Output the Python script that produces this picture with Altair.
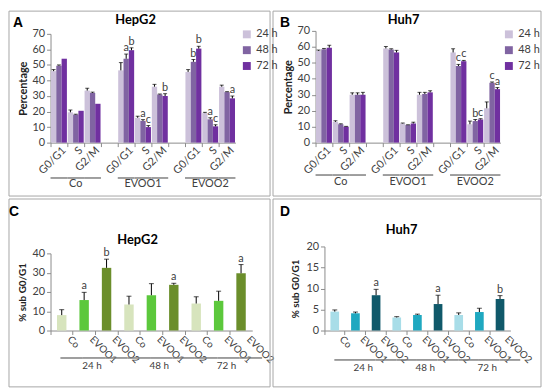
import altair as alt
import pandas as pd

# ---------------- data ----------------
groups = ["Co", "EVOO1", "EVOO2"]
phases = ["G0/G1", "S", "G2/M"]
times = ["24 h", "48 h", "72 h"]

# Panel A: HepG2 cell cycle (%), order: group -> phase -> time
hepg2_cycle = [46, 49.5, 54, 19.5, 18, 20.5, 33.5, 32, 25,
               46.5, 54, 59.5, 16, 14, 10, 36, 31, 30,
               45.5, 52, 60.5, 19, 15, 10.5, 36, 32.5, 28.5]
hepg2_cycle_err = [1, 0.5, 0, 1.5, 0.3, 0, 1.5, 0.5, 0,
                   5, 3, 1.5, 1, 0.8, 1, 1.5, 0.3, 1.5,
                   1.5, 1.5, 1.5, 0.5, 1, 1, 1, 0.3, 1.5]
hepg2_cycle_sig = ["", "", "", "", "", "", "", "", "",
                   "", "a", "b", "", "a", "c", "", "", "b",
                   "", "b", "b", "", "a", "c", "", "", "a"]

# Panel B: Huh7 cell cycle (%)
huh7_cycle = [57.5, 58.5, 59.5, 13, 11.5, 10, 30, 30, 30,
              59, 58.3, 56.5, 12, 11, 12, 30, 30.5, 31.5,
              56.5, 48, 51, 11.5, 13.5, 14.5, 21.5, 37.5, 33.5]
huh7_cycle_err = [0.5, 0.5, 1.5, 0.7, 0.3, 0.2, 1.2, 1.2, 1.5,
                  1.2, 0.5, 1.3, 0.3, 0.2, 0.8, 1.5, 1, 1,
                  2.3, 1, 0.5, 2, 1, 0.5, 4, 0.5, 1]
huh7_cycle_sig = ["", "", "", "", "", "", "", "", "",
                  "", "", "", "", "", "", "", "", "",
                  "", "c", "c", "", "b", "c", "", "c", "a"]

# Panels C, D: % sub G0/G1, order: time -> treatment
hepg2_sub = [8, 15.8, 32.5, 13.5, 18.3, 23.7, 14, 15.4, 29.7]
hepg2_sub_err = [2.8, 4, 4.5, 4.3, 6, 0.8, 3.5, 5, 4.5]
hepg2_sub_sig = ["", "a", "b", "", "", "a", "", "", "a"]

huh7_sub = [4.5, 4.1, 8.4, 3.1, 3.7, 6.3, 3.7, 4.4, 7.5]
huh7_sub_err = [0.4, 0.3, 1.4, 0.2, 0.2, 2.1, 0.5, 0.9, 0.8]
huh7_sub_sig = ["", "", "a", "", "", "a", "", "", "b"]

purple = ["#CCC1DA", "#8064A2", "#7030A0"]
green = ["#D7E4BD", "#5CC83C", "#6B8E2B"]
teal = ["#A8DDE8", "#1FA8C0", "#10596A"]

FONT = "Lato"
AXIS_COL = "#8C8C8C"
TXT = "#404040"

cat_ab = ["Co|G0/G1", "Co|S", "Co|G2/M", "gap1|",
          "EVOO1|G0/G1", "EVOO1|S", "EVOO1|G2/M", "gap2|",
          "EVOO2|G0/G1", "EVOO2|S", "EVOO2|G2/M"]
cat_cd = [f"{t}|{g}" for t in times for g in groups]


def one_row():
    return alt.Data(values=[{"k": 0}])


def deco(items):
    """items: list of (frame, letter, letter_xy, title, title_xy), pixel offsets
    relative to the plot area of the panel that carries them."""
    out = []
    for frame, letter, letter_xy, title, title_xy in items:
        L, R, T, B = frame
        out.append(alt.Chart(one_row()).mark_rect(fill="white", fillOpacity=0,
                                                  stroke="#A6A6A6", strokeWidth=1).encode(
            x=alt.value(L), x2=alt.value(R), y=alt.value(T), y2=alt.value(B)))
        out.append(alt.Chart(one_row()).mark_text(font="Liberation Sans", fontWeight="bold",
                                                  fontSize=14, align="left", baseline="top",
                                                  color="black").encode(
            x=alt.value(letter_xy[0]), y=alt.value(letter_xy[1]), text=alt.value(letter)))
        out.append(alt.Chart(one_row()).mark_text(font=FONT, fontWeight="bold", fontSize=13,
                                                  align="center", baseline="middle",
                                                  color="black").encode(
            x=alt.value(title_xy[0]), y=alt.value(title_xy[1]), text=alt.value(title)))
    return out


def cycle_panel(vals, errs, sigs, ymax, ytitle, W, H, top, leg_xy, line_dy, lab_dy, extra):
    rows = []
    i = 0
    for g in groups:
        for p in phases:
            for t in times:
                rows.append(dict(cat=f"{g}|{p}", group=g, phase=p, time=t,
                                 v=vals[i], top=vals[i] + errs[i], err=errs[i], sig=sigs[i]))
                i += 1
    df = pd.DataFrame(rows)
    step = W / len(cat_ab)
    xs = alt.X("cat:N", scale=alt.Scale(domain=cat_ab, paddingInner=0, paddingOuter=0),
               axis=alt.Axis(title=None, labelExpr="split(datum.value, '|')[1]",
                             labelAngle=-45, labelAlign="right", labelBaseline="middle",
                             bandPosition=0, labelOffset=step / 2 - 3, tickSize=4,
                             labelPadding=2, domainColor=AXIS_COL, tickColor=AXIS_COL,
                             labelColor=TXT, labelFont=FONT, labelFontSize=11))
    xo = alt.XOffset("time:N", scale=alt.Scale(domain=times, paddingInner=0, paddingOuter=0.08))
    yax = alt.Axis(values=list(range(0, ymax + 1, 10)), grid=False, domainColor=AXIS_COL,
                   tickColor=AXIS_COL, tickSize=4, labelColor=TXT, labelFont=FONT,
                   labelFontSize=11, titleFont=FONT, titleFontSize=11, titleColor="#222",
                   titleFontWeight="bold", titlePadding=4)
    ysc = alt.Scale(domain=[0, ymax], nice=False, range=[H, top])
    base = alt.Chart(df)
    bars = base.mark_bar().encode(
        x=xs, xOffset=xo,
        y=alt.Y("v:Q", scale=ysc, axis=yax, title=ytitle),
        color=alt.Color("time:N", scale=alt.Scale(domain=times, range=purple),
                        legend=alt.Legend(title=None, orient="none", legendX=leg_xy[0],
                                          legendY=leg_xy[1], symbolType="square",
                                          symbolSize=64, symbolStrokeWidth=0,
                                          labelFont=FONT, labelFontSize=11,
                                          labelColor=TXT, rowPadding=4, labelOffset=4)))
    eb = base.transform_filter("datum.err > 0")
    rule = eb.mark_rule(color="black", strokeWidth=1).encode(
        x=xs, xOffset=xo, y=alt.Y("v:Q", scale=ysc, axis=yax, title=ytitle), y2="top:Q")
    cap = eb.mark_tick(color="black", thickness=1, size=4).encode(
        x=xs, xOffset=xo, y=alt.Y("top:Q", scale=ysc, axis=yax, title=ytitle))
    sig = base.mark_text(font=FONT, fontSize=11, color=TXT, fill=TXT, baseline="bottom",
                         dy=-1).encode(
        x=xs, xOffset=xo, y=alt.Y("top:Q", scale=ysc, axis=yax, title=ytitle), text="sig:N")
    gl_df = pd.DataFrame([{"cat": f"{g}|{p}"} for g in groups for p in phases])
    gline = alt.Chart(gl_df).mark_rect(color="#7F7F7F").encode(
        x=xs, y=alt.value(H + line_dy), y2=alt.value(H + line_dy + 1.5))
    glab_df = pd.DataFrame([{"cat": f"{g}|S", "group": g} for g in groups])
    glab = alt.Chart(glab_df).mark_text(font=FONT, fontSize=11, color=TXT,
                                        baseline="middle").encode(
        x=xs, y=alt.value(H + lab_dy), text="group:N")
    layers = deco(extra) + [bars, rule, cap, sig, gline, glab]
    return alt.layer(*layers).properties(width=W, height=H)


def sub_panel(vals, errs, sigs, ymax, ystep, colors, W, H, rng, line_dy, lab_dy, extra):
    rows = []
    i = 0
    for t in times:
        for g in groups:
            rows.append(dict(cat=f"{t}|{g}", group=g, time=t, v=vals[i],
                             top=vals[i] + errs[i], err=errs[i], sig=sigs[i]))
            i += 1
    df = pd.DataFrame(rows)
    step = W / len(cat_cd)
    xs = alt.X("cat:N", scale=alt.Scale(domain=cat_cd, paddingInner=0, paddingOuter=0),
               axis=alt.Axis(title=None, labelExpr="split(datum.value, '|')[1]",
                             labelAngle=45, labelAlign="left", labelBaseline="middle",
                             bandPosition=0, labelOffset=step / 2 - 4, tickSize=4,
                             labelPadding=3, domainColor=AXIS_COL, tickColor=AXIS_COL,
                             labelColor=TXT, labelFont=FONT, labelFontSize=10))
    yax = alt.Axis(values=list(range(0, ymax + 1, ystep)), grid=False, domainColor=AXIS_COL,
                   tickColor=AXIS_COL, tickSize=4, labelColor=TXT, labelFont=FONT,
                   labelFontSize=11, titleFont=FONT, titleFontSize=10, titleColor="#222",
                   titleFontWeight="bold", titlePadding=5)
    ysc = alt.Scale(domain=[0, ymax], nice=False, range=rng)
    ytitle = "% sub G0/G1"
    base = alt.Chart(df)
    bars = base.mark_bar(width=alt.RelativeBandSize(0.42)).encode(
        x=xs, y=alt.Y("v:Q", scale=ysc, axis=yax, title=ytitle),
        color=alt.Color("group:N", scale=alt.Scale(domain=groups, range=colors), legend=None))
    rule = base.mark_rule(color="black", strokeWidth=1).encode(
        x=xs, y=alt.Y("v:Q", scale=ysc, axis=yax, title=ytitle), y2="top:Q")
    cap = base.mark_tick(color="black", thickness=1, size=5).encode(
        x=xs, y=alt.Y("top:Q", scale=ysc, axis=yax, title=ytitle))
    sig = base.mark_text(font=FONT, fontSize=11, color=TXT, fill=TXT, baseline="bottom",
                         dy=-1).encode(
        x=xs, y=alt.Y("top:Q", scale=ysc, axis=yax, title=ytitle), text="sig:N")
    gl_df = pd.DataFrame([{"cat": c} for c in cat_cd])
    gline = alt.Chart(gl_df).mark_rect(color="#7F7F7F", xOffset=10).encode(
        x=xs, y=alt.value(H + line_dy), y2=alt.value(H + line_dy + 1.5))
    glab_df = pd.DataFrame([{"cat": f"{t}|EVOO1", "t": t} for t in times])
    glab = alt.Chart(glab_df).mark_text(font=FONT, fontSize=10, color=TXT, dx=8,
                                        baseline="middle").encode(
        x=xs, y=alt.value(H + lab_dy), text="t:N")
    layers = deco(extra) + [bars, rule, cap, sig, gline, glab]
    return alt.layer(*layers).properties(width=W, height=H)


# plot origins (reference pixels): A (50,28)  B (318,28)  C (50,245)  D (327,245)
# frames, panel letters and panel titles of each row are carried by its left panel
dB = 318 - 50
dD = 327 - 50
row1_deco = [((-42, 222, -20, 167), "A", (-38, -15), "HepG2", (86, -11)),
             ((-43 + dB, 228 + dB, -20, 167), "B", (-36 + dB, -15), "Huh7", (89 + dB, -11))]
row2_deco = [((-42, 222, -48, 142), "C", (-42, -42), "HepG2", (88, -7)),
             ((-52 + dD, 219 + dD, -48, 142), "D", (-45 + dD, -42), "Huh7", (78 + dD, -17))]

pA = cycle_panel(hepg2_cycle, hepg2_cycle_err, hepg2_cycle_sig, 70, "Percentage",
                 187, 113, 3, (193, -2), 35, 42, row1_deco)
pB = cycle_panel(huh7_cycle, huh7_cycle_err, huh7_cycle_sig, 70, "Percentage",
                 187, 113, 0, (190, -2), 32, 40, [])
pC = sub_panel(hepg2_sub, hepg2_sub_err, hepg2_sub_sig, 40, 10, green,
               204, 85, [85, 7], 27, 36, row2_deco)
pD = sub_panel(huh7_sub, huh7_sub_err, huh7_sub_sig, 20, 5, teal,
               188, 85, [85, 0], 29, 38, [])

row1 = alt.hconcat(pA, pB, spacing=dB - 187, bounds="flush").resolve_scale(
    color="independent")
row2 = alt.hconcat(pC, pD, spacing=dD - 204, bounds="flush").resolve_scale(
    color="independent")

chart = alt.vconcat(row1, row2, spacing=1).resolve_scale(
    color="independent").properties(padding=0).configure_view(stroke=None)

chart.save("out.html", embed_options={"renderer": "svg", "actions": False})
